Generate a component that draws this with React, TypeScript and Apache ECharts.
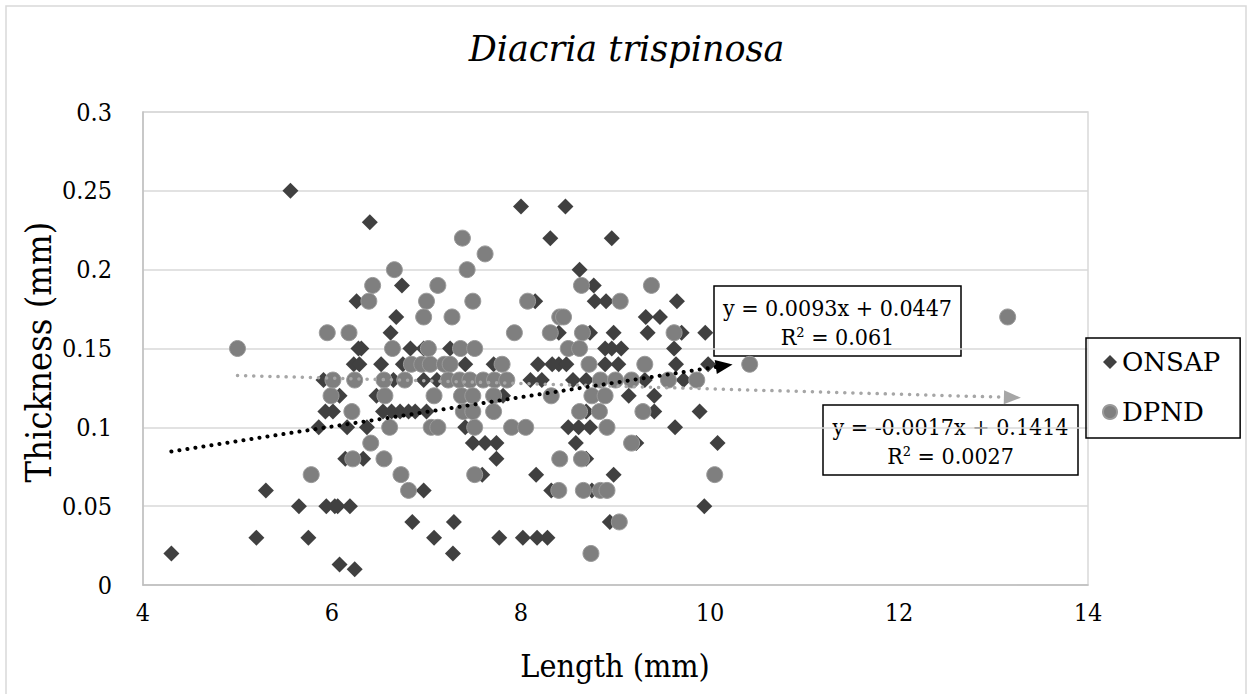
import React, { useEffect, useRef } from "react";
import * as echarts from "echarts";

const FONT = "DejaVu Serif";
const FONT_C = "DejaVu Serif Condensed";

const onsapLength = [
  4.3, 5.2, 5.75, 5.3, 5.65, 5.94, 6.03, 6.06, 6.19, 6.08, 6.24, 5.86, 6.16, 6.14, 5.93, 6.01,
  6.08, 5.91, 6.23, 5.56, 6.26, 6.28, 6.4, 8.0, 8.47, 8.31, 6.74, 8.15, 6.68, 6.62, 8.4, 6.31,
  6.83, 6.97, 7.25, 6.29, 6.52, 6.75, 7.41, 7.71, 8.18, 8.33, 8.4, 6.65, 6.97, 7.11, 8.1, 8.22,
  6.47, 7.81, 6.54, 6.63, 6.72, 6.81, 6.88, 7.0, 6.37, 7.41, 7.49, 7.62, 7.74, 6.33, 7.74, 7.59,
  8.16, 6.97, 8.32, 6.85, 7.29, 7.08, 7.77, 8.02, 8.17, 8.28, 7.28, 8.96, 8.62, 8.77, 8.78, 8.9,
  9.65, 9.32, 9.47, 8.73, 8.98, 9.34, 9.7, 9.95, 8.89, 8.96, 9.06, 9.62, 8.48, 8.89, 9.03, 9.64,
  8.55, 8.69, 9.31, 9.72, 9.14, 9.41, 8.69, 9.41, 9.89, 8.5, 8.61, 8.73, 9.63, 8.58, 9.22, 10.08,
  8.69, 8.98, 8.75, 9.94, 8.94, 9.98,
];
const onsapThickness = [
  0.02, 0.03, 0.03, 0.06, 0.05, 0.05, 0.05, 0.05, 0.05, 0.013, 0.01, 0.1, 0.1, 0.08, 0.11, 0.11,
  0.12, 0.13, 0.14, 0.25, 0.18, 0.15, 0.23, 0.24, 0.24, 0.22, 0.19, 0.18, 0.17, 0.16, 0.16, 0.15,
  0.15, 0.15, 0.15, 0.14, 0.14, 0.14, 0.14, 0.14, 0.14, 0.14, 0.14, 0.13, 0.13, 0.13, 0.13, 0.13,
  0.12, 0.12, 0.11, 0.11, 0.11, 0.11, 0.11, 0.11, 0.1, 0.1, 0.09, 0.09, 0.09, 0.08, 0.08, 0.07,
  0.07, 0.06, 0.06, 0.04, 0.04, 0.03, 0.03, 0.03, 0.03, 0.03, 0.02, 0.22, 0.2, 0.19, 0.18, 0.18,
  0.18, 0.17, 0.17, 0.16, 0.16, 0.16, 0.16, 0.16, 0.15, 0.15, 0.15, 0.15, 0.14, 0.14, 0.14, 0.14,
  0.13, 0.13, 0.13, 0.13, 0.12, 0.12, 0.11, 0.11, 0.11, 0.1, 0.1, 0.1, 0.1, 0.09, 0.09, 0.09,
  0.08, 0.07, 0.06, 0.05, 0.04, 0.14,
];

const dpndLength = [
  5.78, 6.22, 6.21, 5.99, 6.01, 6.24, 5.95, 6.18, 5.0, 7.38, 7.62, 6.66, 7.43, 6.43, 7.12, 6.39,
  7.0, 7.49, 8.07, 6.97, 7.27, 8.41, 7.93, 8.31, 6.64, 7.02, 7.36, 7.51, 6.84, 6.95, 7.04, 7.19,
  7.25, 7.8, 6.55, 6.77, 7.23, 7.35, 7.46, 7.6, 7.72, 7.85, 6.56, 7.08, 7.37, 7.49, 7.71, 8.32,
  7.39, 7.49, 7.71, 6.61, 7.05, 7.12, 7.51, 7.9, 8.05, 6.41, 6.55, 8.41, 6.73, 7.51, 6.81, 8.4,
  8.64, 9.38, 9.05, 8.45, 8.65, 9.62, 8.5, 8.62, 8.72, 9.31, 10.42, 8.84, 9.0, 9.17, 9.56, 9.86,
  8.75, 8.89, 8.62, 8.83, 9.29, 8.91, 9.17, 8.64, 10.05, 8.66, 8.84, 8.91, 9.04, 8.74, 13.15,
];
const dpndThickness = [
  0.07, 0.08, 0.11, 0.12, 0.13, 0.13, 0.16, 0.16, 0.15, 0.22, 0.21, 0.2, 0.2, 0.19, 0.19, 0.18,
  0.18, 0.18, 0.18, 0.17, 0.17, 0.17, 0.16, 0.16, 0.15, 0.15, 0.15, 0.15, 0.14, 0.14, 0.14, 0.14,
  0.14, 0.14, 0.13, 0.13, 0.13, 0.13, 0.13, 0.13, 0.13, 0.13, 0.12, 0.12, 0.12, 0.12, 0.12, 0.12,
  0.11, 0.11, 0.11, 0.1, 0.1, 0.1, 0.1, 0.1, 0.1, 0.09, 0.08, 0.08, 0.07, 0.07, 0.06, 0.06,
  0.19, 0.19, 0.18, 0.17, 0.16, 0.16, 0.15, 0.15, 0.14, 0.14, 0.14, 0.13, 0.13, 0.13, 0.13, 0.13,
  0.12, 0.12, 0.11, 0.11, 0.11, 0.1, 0.09, 0.08, 0.07, 0.06, 0.06, 0.06, 0.04, 0.02, 0.17,
];

// Linear trendlines as printed on the chart (slope, intercept, x-range drawn)
const onsapTrend = { slope: 0.0093, intercept: 0.0447, from: 4.3, to: 10.15 };
const dpndTrend = { slope: -0.0017, intercept: 0.1414, from: 5.0, to: 13.2 };
const onsapEquation = ["y = 0.0093x + 0.0447", "R² = 0.061"];
const dpndEquation = ["y = -0.0017x + 0.1414", "R² = 0.0027"];

const seriesNames = ["ONSAP", "DPND"];
const chartTitle = "Diacria trispinosa";
const xTitle = "Length (mm)";
const yTitle = "Thickness (mm)";

type Trend = { slope: number; intercept: number; from: number; to: number };

function pairs(xs: number[], ys: number[]) {
  return xs.map((x, i) => [x, ys[i]]);
}
function trendPts(t: Trend) {
  return [
    [t.from, t.slope * t.from + t.intercept],
    [t.to, t.slope * t.to + t.intercept],
  ];
}

function eqBox(x: number, y: number, w: number, h: number, lines: string[]) {
  const txt = (t: string, ty: number) => ({
    type: "text",
    x: x + w / 2,
    y: ty,
    style: {
      text: t,
      fontFamily: FONT_C,
      fontSize: 23,
      fill: "#000",
      textAlign: "center",
      textVerticalAlign: "middle",
    },
  });
  return {
    type: "group",
    z: 100,
    children: [
      {
        type: "rect",
        shape: { x, y, width: w, height: h },
        style: { fill: "#fff", stroke: "#000", lineWidth: 1.5 },
      },
      txt(lines[0], y + 22),
      txt(lines[1], y + 51),
    ],
  };
}

export default function App() {
  const ref = useRef<HTMLDivElement>(null);
  useEffect(() => {
    if (!ref.current) return;
    const chart = echarts.init(ref.current, undefined, { renderer: "svg" });
    const trendSeries = (name: string, color: string, width: number, t: Trend, z: number) => ({
      name,
      type: "line",
      data: trendPts(t),
      symbol: "none",
      silent: true,
      z,
      lineStyle: { color, width, type: [0.1, 8], cap: "round" },
    });
    const arrowSeries = (name: string, color: string, t: Trend, z: number, rot: number) => ({
      name,
      type: "scatter",
      data: [trendPts(t)[1]],
      symbol: "triangle",
      symbolSize: [14, 17],
      symbolRotate: rot,
      silent: true,
      z,
      itemStyle: { color, opacity: 1 },
    });
    const build = (rotA: number, rotB: number): any => ({
      animation: false,
      backgroundColor: "#fff",
      title: {
        text: chartTitle,
        left: "center",
        top: 26,
        textStyle: {
          fontFamily: FONT,
          fontSize: 35,
          fontStyle: "italic",
          fontWeight: "normal",
          color: "#000",
        },
      },
      grid: {
        left: 143,
        right: 165,
        top: 112,
        bottom: 109,
        show: true,
        borderColor: "#d9d9d9",
        borderWidth: 1.5,
      },
      xAxis: {
        type: "value",
        min: 4,
        max: 14,
        interval: 2,
        axisLine: { show: true, onZero: false, lineStyle: { color: "#bfbfbf", width: 1.5 } },
        axisTick: { show: false },
        splitLine: { show: false },
        axisLabel: { fontFamily: FONT_C, fontSize: 25, color: "#000", margin: 15 },
      },
      yAxis: {
        type: "value",
        min: 0,
        max: 0.3,
        interval: 0.05,
        axisLine: { show: true, lineStyle: { color: "#bfbfbf", width: 1.5 } },
        axisTick: { show: false },
        splitLine: { show: true, lineStyle: { color: "#d9d9d9", width: 1.5 } },
        axisLabel: {
          fontFamily: FONT_C,
          fontSize: 25,
          color: "#000",
          margin: 31,
          formatter: (v: number) => String(+v.toFixed(2)),
        },
      },
      legend: {
        orient: "vertical",
        left: 1086,
        top: 338,
        data: [
          { name: seriesNames[0], icon: "diamond" },
          { name: seriesNames[1], icon: "circle" },
        ],
        borderColor: "#000",
        borderWidth: 1.5,
        padding: [11, 20, 13, 16],
        itemGap: 24,
        itemWidth: 14,
        itemHeight: 14,
        textStyle: { fontFamily: FONT, fontSize: 26, color: "#000" },
      },
      series: [
        {
          name: seriesNames[0],
          type: "scatter",
          symbol: "diamond",
          symbolSize: 16,
          itemStyle: { color: "#404040", opacity: 1 },
          data: pairs(onsapLength, onsapThickness),
          z: 2,
        },
        {
          name: seriesNames[1],
          type: "scatter",
          symbol: "circle",
          symbolSize: 16,
          itemStyle: { color: "#7f7f7f", borderColor: "#9a9a9a", borderWidth: 1, opacity: 1 },
          data: pairs(dpndLength, dpndThickness),
          z: 3,
        },
        trendSeries("dpndTrendLine", "#a6a6a6", 3.5, dpndTrend, 4),
        arrowSeries("dpndTrendArrow", "#a6a6a6", dpndTrend, 4, rotB),
        trendSeries("onsapTrendLine", "#000000", 4, onsapTrend, 5),
        arrowSeries("onsapTrendArrow", "#000000", onsapTrend, 5, rotA),
      ],
      graphic: [
        {
          type: "rect",
          silent: true,
          z: -10,
          shape: { x: 6, y: 6, width: 1240, height: 720 },
          style: { fill: "none", stroke: "#d9d9d9", lineWidth: 1.5 },
        },
        {
          type: "text",
          x: 38,
          y: 352,
          rotation: Math.PI / 2,
          style: {
            text: yTitle,
            fontFamily: FONT_C,
            fontSize: 36,
            fill: "#000",
            textAlign: "center",
            textVerticalAlign: "middle",
          },
        },
        {
          type: "text",
          x: 615,
          y: 666,
          style: {
            text: xTitle,
            fontFamily: FONT_C,
            fontSize: 32,
            fill: "#000",
            textAlign: "center",
            textVerticalAlign: "middle",
          },
        },
        eqBox(714, 286, 247, 70, onsapEquation),
        eqBox(823, 405, 255, 70, dpndEquation),
      ],
    });
    chart.setOption(build(0, 0));
    const angle = (t: Trend) => {
      const [p0, p1] = trendPts(t).map((p) => chart.convertToPixel({ gridIndex: 0 }, p) as number[]);
      const deg = (Math.atan2(-(p1[1] - p0[1]), p1[0] - p0[0]) * 180) / Math.PI;
      return deg - 90;
    };
    chart.setOption(build(angle(onsapTrend), angle(dpndTrend)));
    return () => chart.dispose();
  }, []);
  return (
    <div
      ref={ref}
      style={{ position: "fixed", left: 0, top: 0, width: 1253, height: 694, background: "#fff" }}
    />
  );
}
